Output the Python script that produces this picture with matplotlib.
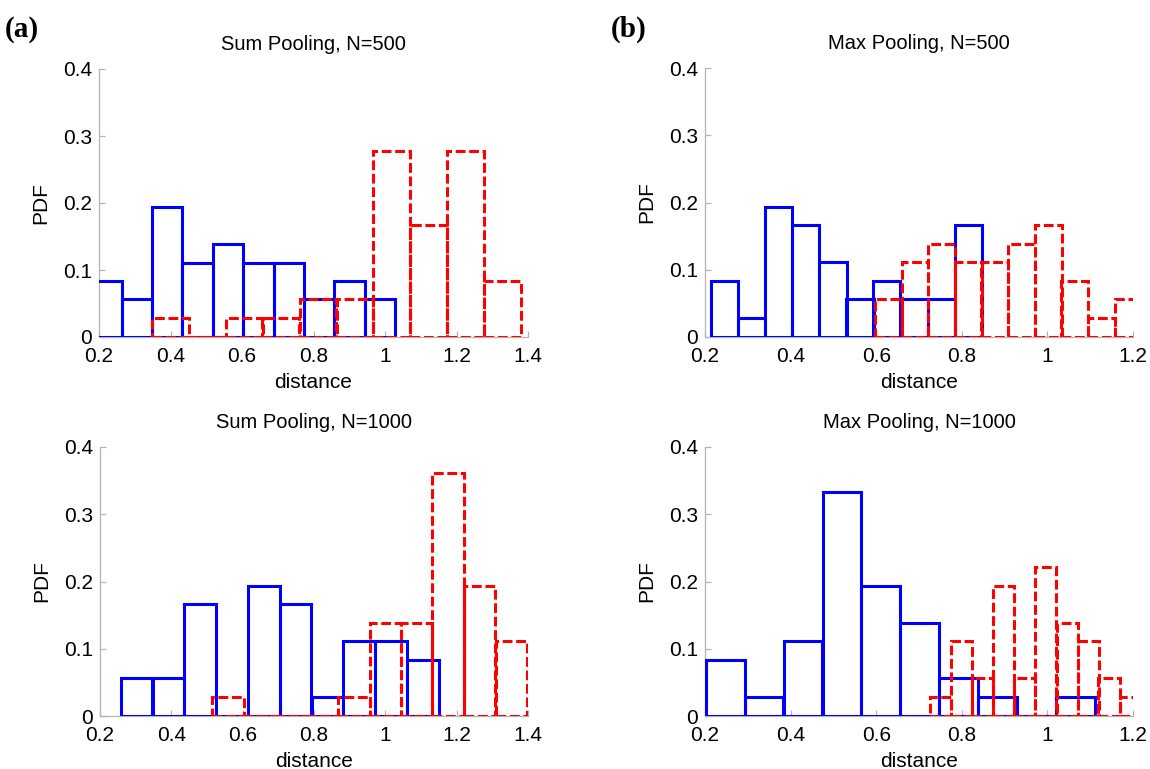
import matplotlib
matplotlib.use('Agg')
import matplotlib.pyplot as plt

plt.rcParams['font.family'] = ['Liberation Sans', 'DejaVu Sans']

# ---------------- data (bin centers, bin widths, PDF heights) ----------------
# (a) Sum Pooling, N=500
sum500_blue_x = [0.221, 0.306, 0.391, 0.476, 0.561, 0.646, 0.731, 0.816, 0.901, 0.986]
sum500_blue_w = 0.085
sum500_blue_y = [0.083, 0.056, 0.194, 0.111, 0.139, 0.111, 0.111, 0.056, 0.083, 0.056]
sum500_red_x = [0.399, 0.503, 0.606, 0.709, 0.813, 0.916, 1.019, 1.123, 1.226, 1.330]
sum500_red_w = 0.1034
sum500_red_y = [0.028, 0.0, 0.028, 0.028, 0.056, 0.056, 0.278, 0.167, 0.278, 0.083]

# (b) Max Pooling, N=500
max500_blue_x = [0.245, 0.308, 0.372, 0.435, 0.499, 0.562, 0.625, 0.689, 0.752, 0.816]
max500_blue_w = 0.0634
max500_blue_y = [0.083, 0.028, 0.194, 0.167, 0.111, 0.056, 0.083, 0.056, 0.056, 0.167]
max500_red_x = [0.629, 0.691, 0.753, 0.815, 0.877, 0.939, 1.002, 1.064, 1.126, 1.188]
max500_red_w = 0.0622
max500_red_y = [0.056, 0.111, 0.139, 0.111, 0.111, 0.139, 0.167, 0.083, 0.028, 0.056]

# (a) Sum Pooling, N=1000
sum1000_blue_x = [0.3025, 0.392, 0.481, 0.570, 0.659, 0.748, 0.838, 0.927, 1.016, 1.105]
sum1000_blue_w = 0.0892
sum1000_blue_y = [0.056, 0.056, 0.167, 0.0, 0.194, 0.167, 0.028, 0.111, 0.111, 0.083]
sum1000_red_x = [0.559, 0.647, 0.735, 0.823, 0.912, 1.000, 1.088, 1.176, 1.264, 1.353]
sum1000_red_w = 0.0882
sum1000_red_y = [0.028, 0.0, 0.0, 0.0, 0.028, 0.139, 0.139, 0.361, 0.194, 0.111]

# (b) Max Pooling, N=1000
max1000_blue_x = [0.248, 0.338, 0.429, 0.520, 0.611, 0.702, 0.793, 0.883, 0.974, 1.065]
max1000_blue_w = 0.0908
max1000_blue_y = [0.083, 0.028, 0.111, 0.333, 0.194, 0.139, 0.056, 0.028, 0.0, 0.028]
max1000_red_x = [0.750, 0.799, 0.848, 0.898, 0.947, 0.996, 1.046, 1.095, 1.144, 1.194]
max1000_red_w = 0.0493
max1000_red_y = [0.028, 0.111, 0.056, 0.194, 0.056, 0.222, 0.139, 0.111, 0.056, 0.028]

titles = ['Sum Pooling, N=500', 'Max Pooling, N=500',
          'Sum Pooling, N=1000', 'Max Pooling, N=1000']
xticks_14 = [0.2, 0.4, 0.6, 0.8, 1.0, 1.2, 1.4]
xticklabels_14 = ['0.2', '0.4', '0.6', '0.8', '1', '1.2', '1.4']
xticks_12 = [0.2, 0.4, 0.6, 0.8, 1.0, 1.2]
xticklabels_12 = ['0.2', '0.4', '0.6', '0.8', '1', '1.2']
yticks = [0, 0.1, 0.2, 0.3, 0.4]
yticklabels = ['0', '0.1', '0.2', '0.3', '0.4']

# ---------------- figure ----------------
W, H = 1150, 769
fig = plt.figure(figsize=(W / 100, H / 100), dpi=100)
fig.patch.set_facecolor('white')


def px_axes(left, right, top, bottom):
    return fig.add_axes([left / W, 1 - bottom / H, (right - left) / W, (bottom - top) / H])


axes = [px_axes(99, 528, 69, 337), px_axes(705, 1133, 68, 337),
        px_axes(100, 528, 447, 716), px_axes(705, 1133, 447, 716)]

panels = [
    (sum500_blue_x, sum500_blue_w, sum500_blue_y, sum500_red_x, sum500_red_w, sum500_red_y, 1.4),
    (max500_blue_x, max500_blue_w, max500_blue_y, max500_red_x, max500_red_w, max500_red_y, 1.2),
    (sum1000_blue_x, sum1000_blue_w, sum1000_blue_y, sum1000_red_x, sum1000_red_w, sum1000_red_y, 1.4),
    (max1000_blue_x, max1000_blue_w, max1000_blue_y, max1000_red_x, max1000_red_w, max1000_red_y, 1.2),
]

LW = 2.2
dash = (0, (3.2, 1.2))
axis_gray = '#b4b4b4'

for ax, title, (bx, bw, by, rx, rw, ry, xmax) in zip(axes, titles, panels):
    ax.bar(bx, by, width=bw, fill=False, edgecolor='#0000ff', linewidth=LW,
           linestyle='-', joinstyle='miter', zorder=3)
    ax.bar(rx, ry, width=rw, fill=False, edgecolor='#ff0000', linewidth=LW,
           linestyle=dash, joinstyle='miter', zorder=4)
    ax.set_xlim(0.2, xmax)
    ax.set_ylim(0, 0.4)
    if xmax > 1.3:
        ax.set_xticks(xticks_14)
        ax.set_xticklabels(xticklabels_14)
    else:
        ax.set_xticks(xticks_12)
        ax.set_xticklabels(xticklabels_12)
    ax.set_yticks(yticks)
    ax.set_yticklabels(yticklabels)
    for s in ['top', 'right']:
        ax.spines[s].set_visible(False)
    for s in ['left', 'bottom']:
        ax.spines[s].set_color(axis_gray)
        ax.spines[s].set_linewidth(0.9)
    ax.tick_params(direction='in', length=4, width=0.9, color=axis_gray,
                   labelsize=15, labelcolor='black')
    ax.tick_params(axis='x', pad=7)
    ax.tick_params(axis='y', pad=5)
    ax.set_xlabel('distance', fontsize=15, labelpad=5)
    ax.set_ylabel('PDF', fontsize=15, labelpad=9)
    ax.set_title(title, fontsize=14.5, pad=14)

fig.text(0.004, 0.952, '(a)', fontsize=21, fontweight='bold',
         family=['Liberation Serif', 'DejaVu Serif'])
fig.text(0.531, 0.952, '(b)', fontsize=21, fontweight='bold',
         family=['Liberation Serif', 'DejaVu Serif'])

fig.savefig('out.png', dpi=100, facecolor='white')
